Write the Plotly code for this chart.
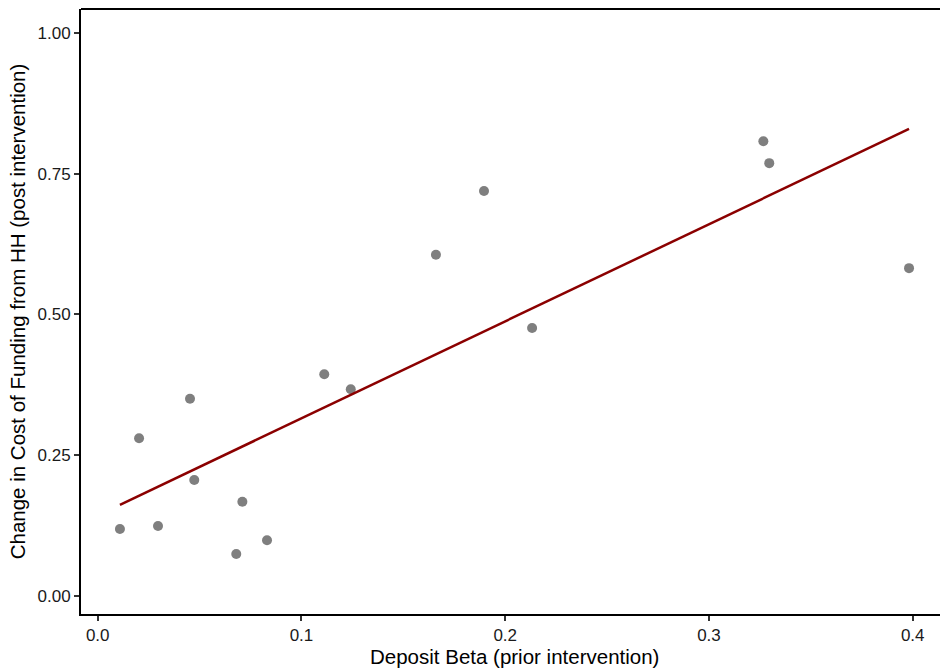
import numpy as np
import plotly.graph_objects as go

# Bank-level observations
deposit_beta = [0.0109, 0.0203, 0.0296, 0.0453, 0.0474, 0.0710, 0.0680, 0.0831,
                0.1112, 0.1242, 0.1660, 0.1896, 0.2132, 0.3267, 0.3296, 0.3982]
cost_change = [0.1186, 0.2800, 0.1240, 0.3500, 0.2057, 0.1670, 0.0741, 0.0985,
               0.3936, 0.3670, 0.6060, 0.7196, 0.4760, 0.8080, 0.7690, 0.5823]

x_ticks = [0.0, 0.1, 0.2, 0.3, 0.4]
x_tick_labels = ["0.0", "0.1", "0.2", "0.3", "0.4"]
y_ticks = [0.0, 0.25, 0.5, 0.75, 1.0]
y_tick_labels = ["0.00", "0.25", "0.50", "0.75", "1.00"]

# Linear fit across the observed range
xa = np.array(deposit_beta)
ya = np.array(cost_change)
slope, intercept = np.polyfit(xa, ya, 1)
fit_x = np.array([xa.min(), xa.max()])
fit_y = intercept + slope * fit_x

font = "Liberation Sans, Arial, sans-serif"

fig = go.Figure()
fig.add_trace(go.Scatter(
    x=deposit_beta, y=cost_change, mode="markers",
    marker=dict(color="#7F7F7F", size=10, line=dict(width=0)),
    showlegend=False, hoverinfo="x+y",
))
fig.add_trace(go.Scatter(
    x=fit_x, y=fit_y, mode="lines",
    line=dict(color="#8B0000", width=2.5),
    showlegend=False, hoverinfo="skip",
))

axis_common = dict(
    showgrid=False, zeroline=False, showline=True, linecolor="black",
    linewidth=2, ticks="outside", ticklen=5, tickwidth=1.5, tickcolor="#333333",
    tickfont=dict(family=font, size=17, color="#1a1a1a"),
)

fig.update_layout(
    width=940, height=669,
    margin=dict(l=81, r=0, t=9, b=55),
    paper_bgcolor="white", plot_bgcolor="white",
    xaxis=dict(
        range=[-0.0082, 0.4134], tickvals=x_ticks, ticktext=x_tick_labels,
        **axis_common,
    ),
    yaxis=dict(
        range=[-0.0325, 1.043], tickvals=y_ticks, ticktext=y_tick_labels,
        title=dict(text="Change in Cost of Funding from HH (post intervention)", standoff=6,
                   font=dict(family=font, size=20.5, color="black")),
        **axis_common,
    ),
    annotations=[dict(
        text="Deposit Beta (prior intervention)", xref="paper", yref="paper",
        x=0.5047, y=-0.071, xanchor="center", yanchor="middle", showarrow=False,
        font=dict(family=font, size=20.5, color="black"),
    )],
    shapes=[dict(type="line", xref="paper", yref="paper", x0=0, x1=1, y0=1, y1=1,
                 line=dict(color="black", width=2))],
)

fig.write_html("out.html")
